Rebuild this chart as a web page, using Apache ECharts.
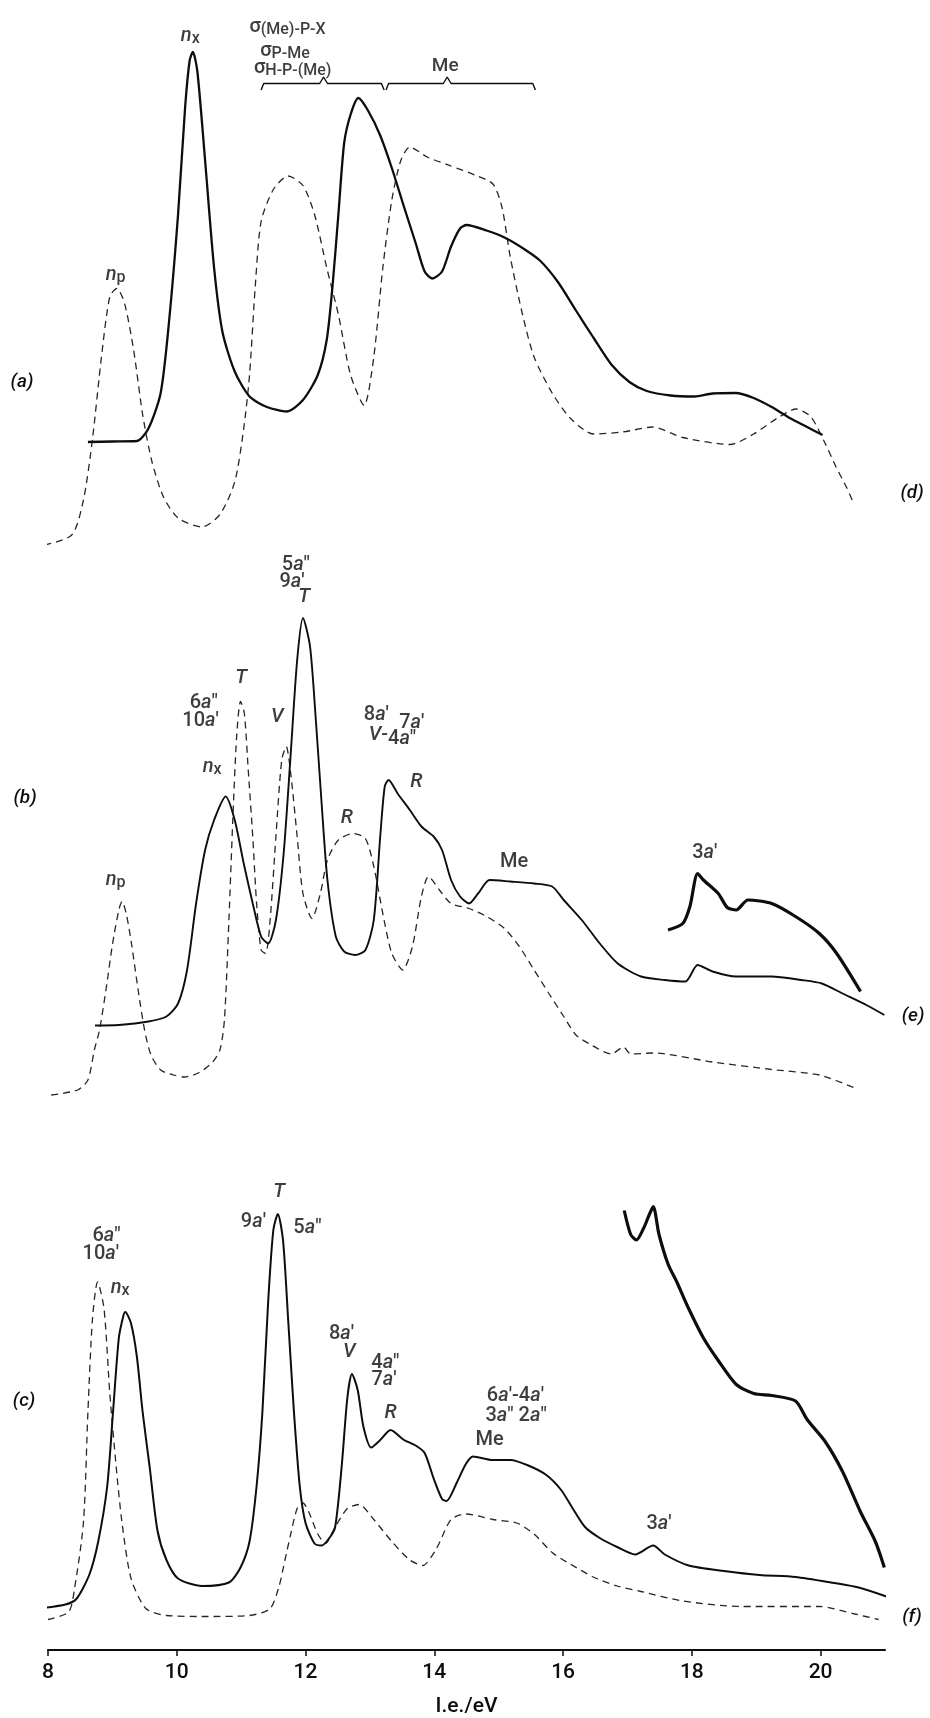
<!DOCTYPE html>
<html>
<head>
<meta charset="utf-8">
<script src="https://cdn.jsdelivr.net/npm/echarts@6/dist/echarts.min.js"></script>
<style>
  html, body { margin: 0; padding: 0; background: #fff; }
  #chart { width: 930px; height: 1718px; }
</style>
</head>
<body>
<div id="chart"></div>
<script>
// Photoelectron spectra, three compounds: solid = He(I) trace, dashed = comparison trace.
// x: ionisation energy (eV); y: relative count rate (arbitrary units, per panel).

const xTicks = [8, 10, 12, 14, 16, 18, 20];

// ---- panel (a) / (d) ----
const solidA = [[8.62,23.6],[9.0,23.7],[9.38,23.8],[9.56,26.3],[9.75,33.4],[9.88,47.7],[10.02,69.1],[10.13,90.6],[10.2,99.9],[10.25,101.6],[10.32,97.7],[10.44,79.9],[10.58,58.4],[10.71,45.6],[10.9,37.7],[11.13,32.7],[11.4,30.6],[11.71,29.7],[11.96,32],[12.19,37],[12.33,44.1],[12.42,54.9],[12.51,69.1],[12.6,83.4],[12.7,89.1],[12.82,92.4],[12.97,89.9],[13.16,84.9],[13.34,78.4],[13.53,70.6],[13.71,63.4],[13.85,57.7],[13.97,56.3],[14.12,57.7],[14.26,62.7],[14.4,66.3],[14.5,67],[14.81,65.9],[15.09,64.5],[15.37,62.4],[15.64,59.9],[15.92,55.6],[16.2,49.9],[16.47,44.5],[16.75,39.1],[17.03,35.6],[17.3,33.8],[17.67,32.9],[18.04,32.7],[18.32,33.3],[18.68,33.4],[18.96,32.4],[19.24,30.6],[19.52,28.4],[19.79,26.6],[20.03,25]];
const dashA = [[7.76,2.5],[8.36,4.9],[8.55,12],[8.69,24.1],[8.83,40.6],[8.96,52.7],[9.07,54.3],[9.19,51.3],[9.33,42],[9.47,29.1],[9.61,19.9],[9.79,12.7],[10.02,8.4],[10.39,6.6],[10.67,9.1],[10.9,15.6],[11.04,26.3],[11.13,37],[11.22,54.9],[11.31,67.7],[11.5,74.1],[11.73,76.8],[11.96,74.9],[12.14,69.1],[12.33,58.4],[12.51,49.1],[12.7,37],[12.91,30.9],[13.06,40.6],[13.2,58.4],[13.34,72],[13.48,79.9],[13.62,82.6],[13.89,80.6],[14.26,78.8],[14.63,77],[14.91,75.2],[15.05,70.6],[15.18,60.6],[15.37,49.1],[15.55,40.6],[15.83,33.4],[16.11,28.4],[16.47,25.2],[16.93,25.6],[17.39,26.6],[17.86,24.5],[18.59,23.1],[18.96,25.2],[19.33,28.4],[19.62,30.2],[19.85,28.6],[20.06,23.6],[20.24,18.6],[20.4,14.6],[20.49,12]];
const labelsA = [
  [10.21, 104.9, '{i|n}{s|x}'],
  [9.05, 57, '{i|n}{s|p}'],
  [11.72, 106.6, '{g|σ}{s|(Me)-P-X}'],
  [11.68, 101.8, '{g|σ}{s|P-Me}'],
  [11.8, 98.4, '{g|σ}{s|H-P-(Me)}'],
  [14.17, 98.8, '{m|Me}']
];
// curly brackets over the band groups: [start, cusp, end]
const bracesA = [[11.31, 12.28, 13.22], [13.25, 14.2, 15.57]];

// ---- panel (b) / (e) ----
const solidB = [[8.73,16.9],[9.1,17],[9.56,17.7],[9.84,18.7],[10.02,21.3],[10.16,28],[10.3,41.3],[10.44,52],[10.58,58],[10.76,62.7],[10.9,58],[11.04,49.3],[11.18,41.3],[11.31,34.7],[11.42,33.3],[11.54,38],[11.66,51.3],[11.77,71.3],[11.87,90],[11.96,98.4],[12.07,92.7],[12.16,78],[12.25,61.3],[12.34,46],[12.47,34.7],[12.6,31.7],[12.77,31],[12.93,32],[13.06,38],[13.16,54.7],[13.23,64.7],[13.29,66],[13.43,63.3],[13.62,60],[13.8,56.7],[13.99,54.7],[14.12,52],[14.26,46],[14.4,42.7],[14.54,41.3],[14.68,43.3],[14.86,46],[15.18,45.7],[15.55,45.3],[15.83,44.7],[16.01,42],[16.29,38],[16.57,33.3],[16.85,29.3],[17.21,26.7],[17.58,26],[17.9,25.7],[18.09,29],[18.32,27.7],[18.69,26.7],[19.24,26.7],[19.7,26],[20.02,25.3],[20.34,23.3],[20.71,21],[20.99,19]];
const insetB = [[17.63,36],[17.86,37.3],[17.97,40.7],[18.09,47.3],[18.18,46],[18.41,43.3],[18.55,40.5],[18.69,40],[18.87,42],[19.24,41.3],[19.61,38.7],[19.98,35.3],[20.25,31.3],[20.62,23.7]];
const dashB = [[8.05,3],[8.46,4],[8.62,6],[8.72,12],[8.8,16],[8.9,24],[9.0,33],[9.1,40],[9.15,41.7],[9.22,39],[9.3,33],[9.4,24],[9.5,16],[9.6,11],[9.75,8],[9.95,7],[10.12,6.6],[10.35,7.5],[10.55,9.5],[10.67,12],[10.74,18],[10.81,38],[10.87,58],[10.93,74.7],[10.99,81.7],[11.05,79.3],[11.11,68],[11.18,54.7],[11.24,41.3],[11.31,32],[11.38,31.3],[11.45,38],[11.54,54.7],[11.63,70],[11.7,72.7],[11.77,67.3],[11.87,54.7],[11.96,43.3],[12.1,38.3],[12.23,43.3],[12.34,50],[12.51,54],[12.74,55.3],[12.93,54.3],[13.06,48.7],[13.2,39.3],[13.34,31.3],[13.51,28],[13.66,32.7],[13.8,42.7],[13.91,46.7],[14.08,44],[14.26,41.3],[14.54,40.3],[14.81,38.7],[15.09,36.3],[15.32,32.7],[15.55,28],[15.78,23.3],[16.01,18.7],[16.2,15],[16.4,13.3],[16.75,11.2],[16.94,12.6],[17.05,11.2],[17.4,11.4],[18.32,9.6],[19.24,8.1],[19.98,7],[20.53,4.4]];
const labelsB = [
  [11.85, 109, '5{i|a}″'],
  [11.79, 105.6, '9{i|a}′'],
  [11.98, 102.6, '{i|T}'],
  [10.42, 81.4, '6{i|a}″'],
  [10.37, 77.8, '10{i|a}′'],
  [11.0, 86.4, '{i|T}'],
  [11.56, 78.6, '{i|V}'],
  [10.55, 68.6, '{i|n}{s|x}'],
  [13.1, 79, '8{i|a}′'],
  [13.65, 77.4, '7{i|a}′'],
  [13.13, 75, '{i|V}-'],
  [13.5, 74.2, '4{i|a}″'],
  [13.72, 65.6, '{i|R}'],
  [12.64, 58.4, '{i|R}'],
  [15.24, 49.6, 'Me'],
  [18.2, 51.4, '3{i|a}′'],
  [9.05, 46, '{i|n}{s|p}']
];

// ---- panel (c) / (f) ----
const solidC = [[7.86,8.3],[8.27,9.1],[8.44,10.2],[8.64,15],[8.78,21.7],[8.92,32.8],[9.01,47.6],[9.1,62.4],[9.17,66.8],[9.2,67.6],[9.29,65.3],[9.38,58.7],[9.47,47.6],[9.58,36.5],[9.7,23.9],[9.84,18],[10.02,14.3],[10.39,12.8],[10.81,13.5],[10.99,16.5],[11.13,21.7],[11.24,32.8],[11.33,47.6],[11.42,69.8],[11.5,84],[11.57,87.2],[11.65,82],[11.73,66.1],[11.82,47.6],[11.91,32.8],[12.0,25.4],[12.14,21.3],[12.25,20.9],[12.37,22.4],[12.46,24.6],[12.56,36.5],[12.65,50.5],[12.72,55.2],[12.81,52],[12.9,44.6],[13.02,40.5],[13.16,42],[13.32,44],[13.53,42],[13.71,40.9],[13.85,39.4],[13.99,34.3],[14.12,30.2],[14.19,29.8],[14.35,33.5],[14.49,37.2],[14.6,38.7],[14.91,38],[15.18,38],[15.46,36.9],[15.74,35],[15.97,32],[16.15,28.3],[16.34,24.6],[16.57,22.4],[16.84,20.6],[17.12,19.1],[17.4,20.9],[17.58,19.1],[17.95,16.9],[18.5,15.8],[19.05,15],[19.61,14.6],[20.16,13.5],[20.62,12.4],[21.04,10.6]];
const insetC = [[16.95,87.9],[17.05,83.1],[17.14,82],[17.26,84.6],[17.33,86.8],[17.4,88.7],[17.49,83.1],[17.63,77.2],[17.77,73.5],[17.95,68.3],[18.18,62.4],[18.41,57.9],[18.69,53.1],[18.96,51.3],[19.24,50.9],[19.61,49.8],[19.79,46.1],[20.07,41.7],[20.34,35.7],[20.62,27.6],[20.85,21.7],[20.99,16.5]];
const dashC = [[8.0,6.1],[8.32,7.6],[8.41,12.1],[8.55,25.4],[8.62,47.6],[8.69,66.1],[8.77,73.6],[8.87,68.3],[8.96,51.3],[9.06,36.5],[9.15,25.4],[9.29,14.3],[9.52,8.3],[9.84,6.9],[10.48,6.7],[11.13,6.9],[11.45,8.3],[11.59,12.8],[11.68,18],[11.77,23.2],[11.87,28.3],[11.96,29.4],[12.05,27.6],[12.19,23.2],[12.31,21.3],[12.46,24.6],[12.65,28.3],[12.83,29.1],[13.06,26.1],[13.34,21.7],[13.62,18],[13.82,16.9],[14.03,20.2],[14.26,26.1],[14.49,27.2],[14.91,26.1],[15.28,25.4],[15.55,23.2],[15.83,19.5],[16.11,17.2],[16.47,14.6],[16.84,12.8],[17.21,11.7],[17.86,9.8],[18.78,8.7],[19.98,8.7],[20.53,7.2],[20.9,6.1]];
const labelsC = [
  [11.59, 91.6, '{i|T}'],
  [11.19, 85.6, '9{i|a}′'],
  [12.03, 84.4, '5{i|a}″'],
  [8.91, 82.8, '6{i|a}″'],
  [8.82, 79.2, '10{i|a}′'],
  [9.12, 72.4, '{i|n}{s|x}'],
  [12.56, 63.2, '8{i|a}′'],
  [12.68, 59.6, '{i|V}'],
  [13.24, 57.4, '4{i|a}″'],
  [13.22, 54, '7{i|a}′'],
  [13.32, 47.4, '{i|R}'],
  [15.26, 50.8, '6{i|a}′-4{i|a}′'],
  [15.27, 46.8, '3{i|a}″ 2{i|a}″'],
  [14.86, 42, 'Me'],
  [17.49, 25.2, '3{i|a}′']
];

const FONT = "Roboto, 'Noto Sans', 'DejaVu Sans', sans-serif";
const INK = '#0d0d0d';

const rich = {
  i: { fontFamily: FONT, fontStyle: 'italic', fontWeight: 500, fontSize: 20, color: INK, lineHeight: 22 },
  s: { fontFamily: FONT, fontWeight: 500, fontSize: 16, color: INK, verticalAlign: 'bottom', lineHeight: 15 },
  g: { fontFamily: FONT, fontWeight: 500, fontSize: 20, color: INK, lineHeight: 22 },
  m: { fontFamily: FONT, fontWeight: 500, fontSize: 19, color: INK }
};

const grids = [
  { left: 48, right: 45, top: 0, height: 560 },
  { left: 48, right: 45, top: 560, height: 550 },
  { left: 48, right: 45, top: 1110, height: 540 }
];
const yMax = [112, 110, 108];

function curve(idx, data, opts) {
  return Object.assign({
    type: 'line', xAxisIndex: idx, yAxisIndex: idx, data: data,
    showSymbol: false, symbol: 'none', smooth: 0.25, clip: false, silent: true,
    lineStyle: { color: INK, width: 1.8 }
  }, opts || {});
}
function dashed(idx, data) {
  return curve(idx, data, { lineStyle: { color: '#262626', width: 1.3, type: [7, 5] } });
}
function labels(idx, data) {
  return {
    type: 'scatter', xAxisIndex: idx, yAxisIndex: idx, data: data,
    symbolSize: 1, clip: false, silent: true,
    itemStyle: { color: 'rgba(0,0,0,0)' },
    label: {
      show: true, position: 'inside',
      fontFamily: FONT, fontWeight: 500, fontSize: 20, color: INK, lineHeight: 22,
      formatter: p => p.data[2], rich: rich
    }
  };
}
function brace(idx, b) {
  const yb = 94, yt = 95.3, yc = 96.6;
  const pts = [[b[0], yb], [b[0] + 0.04, yt], [b[1] - 0.06, yt], [b[1], yc],
               [b[1] + 0.06, yt], [b[2] - 0.04, yt], [b[2], yb]];
  return curve(idx, pts, { smooth: false, lineStyle: { color: INK, width: 1.4 } });
}

const xAxes = grids.map((g, i) => ({
  gridIndex: i, type: 'value', min: 8, max: 21,
  show: i === 2,
  splitLine: { show: false },
  axisLine: { show: true, onZero: false, lineStyle: { color: INK, width: 2.2 } },
  axisTick: { show: true, length: 6, customValues: xTicks, lineStyle: { color: INK, width: 1.5 } },
  axisLabel: {
    customValues: xTicks, margin: 12,
    fontFamily: FONT, fontWeight: 500, fontSize: 21, color: INK
  },
  name: 'I.e./eV', nameLocation: 'middle', nameGap: 46,
  nameTextStyle: { fontFamily: FONT, fontWeight: 500, fontSize: 21, color: INK }
}));
const yAxes = grids.map((g, i) => ({
  gridIndex: i, type: 'value', min: 0, max: yMax[i], show: false
}));

const series = [
  dashed(0, dashA),
  curve(0, solidA, { lineStyle: { color: INK, width: 2.3 } }),
  labels(0, labelsA),
  brace(0, bracesA[0]),
  brace(0, bracesA[1]),

  dashed(1, dashB),
  curve(1, solidB, { lineStyle: { color: INK, width: 1.9 } }),
  curve(1, insetB, { lineStyle: { color: INK, width: 3.2 } }),
  labels(1, labelsB),

  dashed(2, dashC),
  curve(2, solidC, { lineStyle: { color: INK, width: 2 } }),
  curve(2, insetC, { lineStyle: { color: INK, width: 3.2 } }),
  labels(2, labelsC)
];

// panel letters at the margins
const panelTags = [
  ['(a)', 22, 382], ['(d)', 912, 493],
  ['(b)', 25, 798], ['(e)', 913, 1016],
  ['(c)', 24, 1401], ['(f)', 912, 1617]
];
const graphic = panelTags.map(t => ({
  type: 'text', x: t[1], y: t[2], silent: true,
  style: {
    text: t[0], fontFamily: FONT, fontStyle: 'italic', fontWeight: 500, fontSize: 19, fill: INK,
    align: 'center', verticalAlign: 'middle'
  }
}));

const chart = echarts.init(document.getElementById('chart'), null, { renderer: 'canvas' });
chart.setOption({
  backgroundColor: '#ffffff',
  animation: false,
  grid: grids,
  xAxis: xAxes,
  yAxis: yAxes,
  series: series,
  graphic: graphic
});
</script>
</body>
</html>
